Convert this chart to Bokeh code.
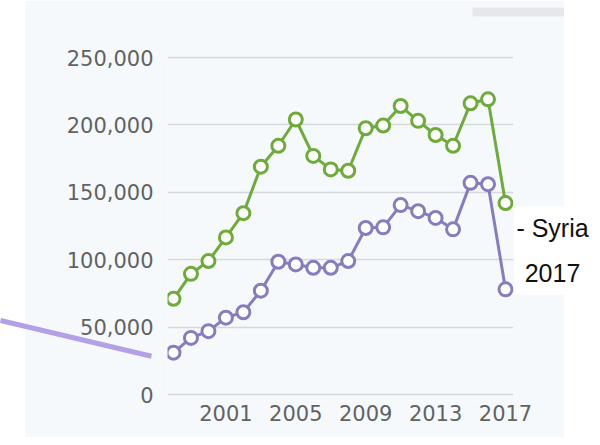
import math
from bokeh.plotting import figure
from bokeh.models import FixedTicker, NumeralTickFormatter, Range1d, Label
from bokeh.embed import file_html
from bokeh.resources import INLINE

# ---- data ----
years = list(range(1998, 2018))
series_green = [71000, 89500, 99000, 116500, 134500, 169000, 184500, 204000, 177000, 167000,
                166000, 197500, 199500, 214000, 203000, 192500, 184500, 216000, 219000, 142000]
series_purple = [31000, 42000, 47000, 57000, 61000, 77000, 98500, 96500, 94000, 94000,
                 99000, 123500, 124000, 140500, 136000, 131000, 122500, 157000, 156000, 78000]
y_ticks = [0, 50000, 100000, 150000, 200000, 250000]
x_ticks = [2001, 2005, 2009, 2013, 2017]
note_lines = ["- Syria", "2017"]

GREEN = "#6eab3a"
PURPLE = "#877cbf"
BG = "#f6f9fc"

p = figure(frame_width=346, frame_height=350,
           min_border_left=167, min_border_right=79, min_border_top=50, min_border_bottom=37,
           x_range=Range1d(1997.657, 2017.458), y_range=Range1d(-4451, 255193),
           output_backend="svg", toolbar_location=None)

p.outline_line_color = None
p.background_fill_color = BG
p.border_fill_color = BG

# series
p.line(years, series_purple, line_color=PURPLE, line_width=3)
p.scatter(years, series_purple, size=13, fill_color="white", line_color=PURPLE, line_width=3)
p.line(years, series_green, line_color=GREEN, line_width=3)
p.scatter(years, series_green, size=13, fill_color="white", line_color=GREEN, line_width=3)

# axes
for ax in (p.xaxis[0], p.yaxis[0]):
    ax.axis_line_color = None
    ax.major_tick_line_color = None
    ax.minor_tick_line_color = None
    ax.major_tick_out = 0
    ax.minor_tick_out = 0
    ax.major_label_text_font = "DejaVu Sans"
    ax.major_label_text_font_size = "21px"
    ax.major_label_text_color = "#626262"

p.yaxis.ticker = FixedTicker(ticks=y_ticks)
p.yaxis.formatter = NumeralTickFormatter(format="0,0")
p.yaxis.major_label_standoff = 14
p.xaxis.ticker = FixedTicker(ticks=x_ticks)
p.xaxis.major_label_standoff = 4

p.xgrid.grid_line_color = None
p.ygrid.ticker = FixedTicker(ticks=y_ticks)
p.ygrid.grid_line_color = "#d6d8dc"
p.ygrid.grid_line_width = 1.5

# white page strips outside the chart panel (left and right), drawn below annotations
for cx, half in ((12.5, 12), (577.5, 14)):
    p.add_layout(Label(x=cx, y=222.5, x_units="canvas", y_units="canvas", text="\u00a0",
                       text_font="DejaVu Sans", text_font_size="1px", text_color="white",
                       background_fill_color="white",
                       padding=dict(left=half, right=half, top=222, bottom=222),
                       text_align="center", text_baseline="middle", level="guide"), "left")

# annotation text on a white box (right side panel: not clipped to the frame)
p.add_layout(Label(x=552, y=250, x_units="canvas", y_units="canvas",
                   text="\n".join(note_lines), text_line_height=1.61,
                   text_font="Liberation Sans", text_font_size="25px", text_color="#111111",
                   background_fill_color="white",
                   padding=dict(left=2, right=2, top=8, bottom=8),
                   text_align="center", text_baseline="middle"), "right")

# pointer stroke on the left (a thin rotated filled label box)
ang = -math.atan2(36, 152)
p.add_layout(Label(x=0, y=320, x_units="canvas", y_units="canvas", text="\u00a0" * 122,
                   text_font="DejaVu Sans", text_font_size="4px", text_color="#b3a0e6",
                   background_fill_color="#b3a0e6", angle=ang,
                   text_align="left", text_baseline="middle"), "above")

# partially visible button at the top right
p.add_layout(Label(x=472, y=7, x_units="canvas", y_units="canvas", text="\u00a0" * 36,
                   text_font="DejaVu Sans", text_font_size="8px", text_color="#e5e7ea",
                   background_fill_color="#e5e7ea",
                   text_align="left", text_baseline="top"), "above")

open("out.html", "w").write(file_html(p, INLINE))
